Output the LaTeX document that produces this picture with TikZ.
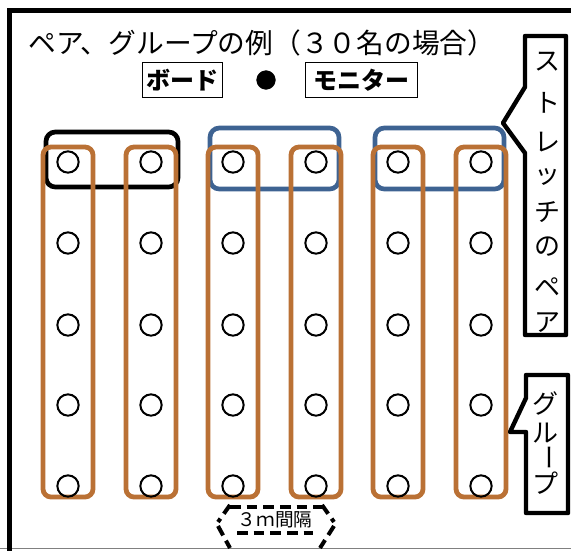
\documentclass[tikz,border=0pt]{standalone}
\usepackage{fontspec}
\setmainfont{Noto Sans CJK JP}
\definecolor{cu}{RGB}{186,113,53}
\definecolor{bl}{RGB}{62,99,146}
\begin{document}
\begin{tikzpicture}[x=0.75pt,y=-0.75pt,
  seat/.style={draw,circle,line width=1.5pt,minimum size=16pt,inner sep=0pt},
  pairbox/.style={line width=3.5pt,rounded corners=7pt},
  lane/.style={draw=cu,line width=3.6pt,rounded corners=6pt},
  callout/.style={draw,line width=3.3pt,line join=round,fill=white},
  vchar/.style={font=\fontsize{19.5}{19.5}\selectfont,inner sep=0pt},
  label/.style={draw,line width=0.75pt,inner sep=0pt,minimum height=26pt,font=\fontsize{18}{18}\selectfont\bfseries}]
\useasboundingbox (0,0) rectangle (571,550);
% frame
\draw[gray,line width=0.8pt] (0,548.5) -- (571,548.5);
\draw[line width=3.2pt] (9.5,552) -- (9.5,10.5) -- (575,10.5);
% title
\node[anchor=west,inner sep=0pt,font=\fontsize{20.8}{20.8}\selectfont] (title) at (28,43) {ペア、グループの例（３０名の場合）};
\node[label,minimum width=60pt] (board) at (182,80) {ボード};
\node[draw,circle,fill,minimum size=14pt,inner sep=0pt] (dot) at (266,80) {};
\node[label,minimum width=84pt] (monitor) at (361,80) {モニター};
% pair boxes
\draw[pairbox,black] (46,132) rectangle (178,187);
\draw[pairbox,bl] (210,128) rectangle (339,189);
\draw[pairbox,bl] (375,128) rectangle (504,189);
% seats and lanes
\foreach \c/\x in {1/68,2/151,3/233,4/316,5/398,6/481}{
  \draw[lane] (\x-25,147) rectangle (\x+25,497);
  \foreach \r/\y in {1/162,2/243,3/325,4/405,5/486}{
    \node[seat] (s-\c-\r) at (\x,\y) {};
  }
}
% distance mark
\begin{scope}[line width=3pt,dash pattern=on 8pt off 4.5pt]
\draw (230,505) -- (218,522);
\draw (218,526) -- (230,548);
\draw (322,505) -- (334,522);
\draw (334,526) -- (320,548);
\draw (230,507) -- (322,507);
\draw (237,533) -- (313,533);
\end{scope}
\node[inner sep=1pt,font=\fontsize{14}{14}\selectfont] (gap) at (275,520) {３ｍ間隔};
% stretch pair callout
\draw[callout] (525,36) -- (566,36) -- (566,335) -- (525,335) -- (525,153) -- (503,123) -- (525,87) -- cycle;
\foreach \ch/\y [count=\i] in {ス/62,ト/103,レ/142,ッ/177,チ/212,の/247,ペ/287,ア/323}{
  \node[vchar] (sp\i) at (547,\y) {\ch};
}
% group callout
\draw[callout] (526,375) -- (568,375) -- (568,513) -- (526,513) -- (526,432) -- (510,432) -- (526,398) -- cycle;
\node[vchar] (g1) at (545,403) {グ};
\node[vchar] (g2) at (545,433) {ル};
\node[vchar,rotate=-90] (g3) at (545,457) {ー};
\node[vchar] (g4) at (545,483) {プ};
\end{tikzpicture}
\end{document}
